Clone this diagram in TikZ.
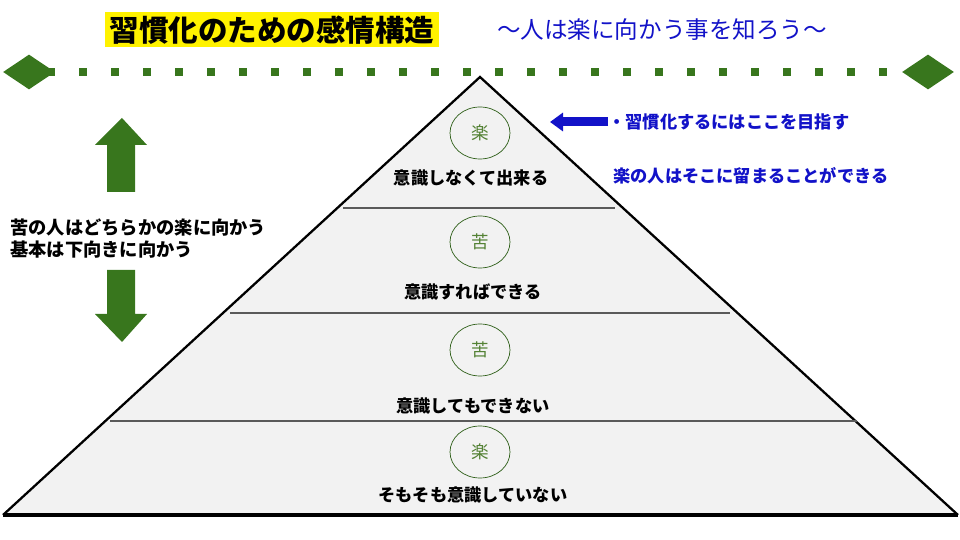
\documentclass[tikz,border=0pt]{standalone}
\usepackage{fontspec}
\setmainfont{Noto Sans CJK JP}
\usetikzlibrary{shapes.geometric,arrows.meta}
\definecolor{leafgreen}{RGB}{56,118,29}
\definecolor{moodgreen}{RGB}{84,130,53}
\definecolor{deepblue}{RGB}{18,18,200}
\definecolor{layerfill}{RGB}{242,242,242}
\definecolor{dividergray}{RGB}{90,90,90}
\tikzset{
  levellabel/.style={font=\fontsize{9.8}{11}\selectfont\bfseries, inner sep=0pt},
  moodcircle/.style={draw=leafgreen!80!black, thin, ellipse, minimum width=1.2cm, minimum height=1.04cm, inner sep=0pt, text=moodgreen, font=\fontsize{10}{11}\selectfont},
  endmark/.style={diamond, fill=leafgreen, minimum width=1.04cm, minimum height=0.7cm, inner sep=0pt},
  bluenote/.style={text=deepblue, font=\fontsize{9.8}{11}\selectfont\bfseries, inner sep=0pt, anchor=west}
}
\begin{document}
\begin{tikzpicture}[x=0.02cm, y=-0.02cm]
  \useasboundingbox (0,0) rectangle (960,540);

\node[fill=yellow, minimum width=6.7cm, minimum height=0.7cm, inner sep=0pt, font=\fontsize{16.8}{18}\selectfont\bfseries] (title) at (272,30){習慣化のための感情構造};

\node[text=deepblue, font=\fontsize{13.4}{15}\selectfont] (subtitle) at (662,30){～人は楽に向かう事を知ろう～};

\node[endmark] (leftmark) at (29,72){};
\node[endmark] (rightmark) at (928,72){};
  \draw[leafgreen, line width=0.16cm, dash pattern=on 0.16cm off 0.48cm] (47.3,72) -- (887.3,72);

  \fill[layerfill] (480,77) -- (958,515) -- (3,515) -- cycle;
  \draw[line width=1.3pt] (3,515) -- (480,77) -- (958,515);
  \draw[line width=2pt] (3,515) -- (958,515);
  \draw[dividergray, line width=1.5pt] (343,208) -- (615,208);
  \draw[dividergray, line width=1.5pt] (230,313) -- (730,313);
  \draw[dividergray, line width=1.5pt] (110,421) -- (857,421);


\node[moodcircle] (mood1) at (480,133){楽};
\node[levellabel] (level1) at (471,178){意識しなくて出来る};

\node[moodcircle] (mood2) at (480,242){苦};
\node[levellabel] (level2) at (473,292){意識すればできる};

\node[moodcircle] (mood3) at (480,350){苦};
\node[levellabel] (level3) at (473,406){意識してもできない};

\node[moodcircle] (mood4) at (480,452){楽};
\node[levellabel] (level4) at (473,495){そもそも意識していない};


  \fill[leafgreen] (122,118) -- (147,145) -- (135,145) -- (135,192) -- (107,192) -- (107,145) -- (95,145) -- cycle;
  \fill[leafgreen] (122,342) -- (147,314) -- (135,314) -- (135,270) -- (107,270) -- (107,314) -- (95,314) -- cycle;

\node[levellabel, anchor=west, align=left, font=\fontsize{10.4}{12.5}\selectfont\bfseries] (sidenote) at (10,239){苦の人はどちらかの楽に向かう\\基本は下向きに向かう};


\coordinate (goaltail) at (608,122);
\coordinate (goaltip) at (550,122);
  \draw[deepblue, line width=0.18cm, -{Triangle[length=0.26cm, width=0.36cm]}] (goaltail) -- (goaltip);
\node[bluenote] (goalnote) at (608,122){・習慣化するにはここを目指す};
\node[bluenote] (staynote) at (613,176){楽の人はそこに留まることができる};
\end{tikzpicture}
\end{document}
